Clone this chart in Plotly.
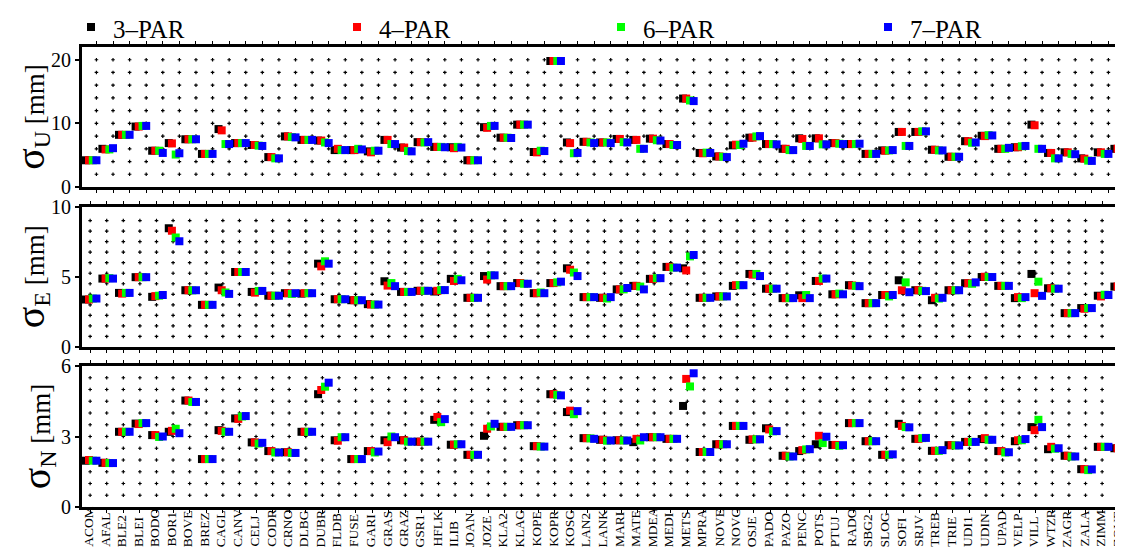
import numpy as np
import plotly.graph_objects as go

stations = ["ACOM","AFAL","BLE2","BLEI","BODO","BOR1","BOVE","BREZ","CAGL","CANV",
            "CELJ","CODR","CRNO","DLBG","DUBR","FLDB","FUSE","GARI","GRAS","GRAZ",
            "GSR1","HFLK","ILIB","JOAN","JOZE","KLA2","KLAG","KOPE","KOPR","KOSG",
            "LAN2","LANK","MARI","MATE","MDEA","MEDI","METS","MPRA","NOVE","NOVG",
            "OSJE","PADO","PAZO","PENC","POTS","PTUJ","RADO","SBG2","SLOG","SOFI",
            "SRJV","TREB","TRIE","UDI1","UDIN","UPAD","VELP","VILL","WTZR","ZAGR",
            "ZALA","ZIMM","ZOUF"]

models = ["3\u2013PAR", "4\u2013PAR", "6\u2013PAR", "7\u2013PAR"]

# sigma_U [mm]
sigU_3par = [4.2,6.0,8.2,9.5,5.7,6.9,7.5,5.2,9.1,6.9,6.6,4.7,7.95,7.4,7.3,5.8,5.8,5.6,7.4,6.2,
             7.05,6.3,6.25,4.2,9.4,7.75,9.8,5.5,19.8,7.0,7.1,7.0,7.55,7.4,7.6,6.75,13.9,5.35,4.8,6.55,
             7.75,6.75,6.0,7.65,7.65,6.9,6.75,5.2,5.75,8.65,8.65,5.85,4.75,7.2,8.05,6.0,6.25,9.8,5.35,5.45,
             4.5,5.45,6.0]
sigU_4par = [4.2,5.9,8.2,9.5,5.7,6.85,7.5,5.2,8.9,6.9,6.6,4.7,7.95,7.4,7.3,6.0,5.8,5.45,7.4,6.2,
             7.05,6.3,6.1,4.2,9.3,7.75,9.8,5.45,19.8,6.9,7.1,7.0,7.55,7.4,7.6,6.75,13.9,5.3,4.8,6.65,
             7.75,6.75,6.0,7.55,7.65,6.9,6.75,5.2,5.7,8.65,8.65,5.85,4.75,7.2,8.0,6.0,6.25,9.7,5.35,5.45,
             4.45,5.45,6.0]
sigU_6par = [4.2,5.9,8.2,9.6,5.7,5.1,7.5,5.2,6.75,6.9,6.5,4.5,7.85,7.4,7.0,5.8,6.0,5.7,6.75,5.65,
             7.0,6.3,6.3,4.2,9.6,7.75,9.8,5.7,19.8,5.3,7.0,7.0,7.05,6.0,7.35,6.6,13.6,5.4,4.75,6.6,
             7.95,6.75,5.8,6.45,6.7,6.8,6.75,5.2,5.75,6.45,8.75,5.75,4.75,6.95,8.15,6.0,6.4,6.0,4.5,5.2,
             4.15,5.2,5.8]
sigU_7par = [4.2,6.1,8.2,9.6,5.35,5.3,7.5,5.2,6.75,6.9,6.45,4.5,7.8,7.4,6.9,5.8,5.9,5.7,6.75,5.6,
             7.05,6.25,6.2,4.2,9.6,7.7,9.8,5.65,19.8,5.35,6.9,6.9,7.0,6.0,7.3,6.6,13.5,5.35,4.7,6.8,
             8.0,6.7,5.8,6.45,6.7,6.75,6.8,5.2,5.8,6.45,8.75,5.75,4.75,7.0,8.1,6.15,6.45,6.0,4.5,5.15,
             4.1,5.2,6.0]

# sigma_E [mm]
sigE_3par = [3.38,4.87,3.85,4.97,3.57,8.45,4.04,3.0,4.23,5.34,3.92,3.65,3.83,3.8,5.93,3.4,3.33,3.05,4.68,3.92,
             4.0,3.95,4.85,3.5,5.05,4.33,4.55,3.83,4.55,5.6,3.55,3.5,4.1,4.35,4.85,5.7,5.6,3.5,3.6,4.35,
             5.2,4.15,3.48,3.68,4.7,3.75,4.4,3.12,3.7,4.75,4.04,3.33,4.04,4.54,4.98,4.35,3.48,5.2,4.18,2.41,
             2.77,3.65,4.3]
sigE_4par = [3.38,4.87,3.8,4.97,3.62,8.27,4.04,3.0,4.04,5.34,3.87,3.65,3.83,3.83,5.74,3.4,3.33,3.02,4.37,3.92,
             4.0,4.0,4.7,3.5,4.8,4.33,4.55,3.83,4.55,5.5,3.55,3.5,4.1,4.35,4.85,5.7,5.45,3.5,3.6,4.4,
             5.15,4.15,3.48,3.48,4.7,3.75,4.38,3.12,3.7,4.04,4.04,3.5,4.04,4.54,5.0,4.35,3.55,3.83,4.18,2.41,
             2.72,3.6,4.3]
sigE_6par = [3.45,4.9,3.85,4.97,3.65,7.8,4.03,3.0,3.88,5.34,3.99,3.65,3.78,3.83,6.1,3.4,3.33,3.02,4.55,3.92,
             4.0,4.05,4.85,3.5,5.1,4.33,4.5,3.88,4.6,5.3,3.55,3.45,4.1,4.3,4.9,5.65,6.45,3.5,3.6,4.4,
             5.2,4.15,3.48,3.7,4.87,3.8,4.35,3.12,3.6,4.6,4.0,3.45,4.04,4.5,4.98,4.35,3.48,4.65,4.15,2.41,
             2.77,3.72,4.33]
sigE_7par = [3.45,4.87,3.85,4.97,3.7,7.52,4.04,3.0,3.78,5.34,3.99,3.65,3.83,3.83,5.93,3.4,3.33,3.02,4.33,3.92,
             4.0,4.05,4.75,3.5,5.1,4.33,4.5,3.83,4.65,5.05,3.55,3.55,4.2,4.1,4.9,5.65,6.55,3.5,3.6,4.4,
             5.05,4.15,3.48,3.48,4.87,3.75,4.33,3.12,3.7,3.9,3.98,3.5,4.04,4.6,4.98,4.35,3.55,3.64,4.15,2.41,
             2.77,3.7,4.35]

# sigma_N [mm]
sigN_3par = [1.97,1.88,3.2,3.55,3.06,3.2,4.53,2.04,3.27,3.77,2.75,2.38,2.33,3.2,4.8,2.84,2.04,2.38,2.84,2.84,
             2.78,3.71,2.65,2.22,3.03,3.41,3.48,2.59,4.8,4.04,2.93,2.86,2.84,2.76,2.97,2.9,4.3,2.34,2.67,3.45,
             2.86,3.35,2.18,2.38,2.67,2.64,3.57,2.8,2.22,3.54,2.9,2.39,2.63,2.77,2.89,2.38,2.8,3.4,2.46,2.18,
             1.61,2.56,2.5]
sigN_4par = [2.0,1.88,3.2,3.53,3.06,3.24,4.53,2.04,3.24,3.75,2.75,2.38,2.33,3.2,4.98,2.82,2.04,2.38,2.76,2.84,
             2.78,3.83,2.65,2.22,3.33,3.41,3.48,2.59,4.8,4.1,2.93,2.86,2.84,2.9,2.97,2.9,5.45,2.34,2.67,3.45,
             2.88,3.3,2.18,2.42,3.03,2.64,3.57,2.8,2.22,3.45,2.9,2.39,2.63,2.77,2.93,2.38,2.84,3.27,2.56,2.18,
             1.61,2.56,2.5]
sigN_6par = [1.97,1.87,3.2,3.57,2.98,3.33,4.47,2.04,3.2,3.85,2.7,2.32,2.3,3.2,5.12,2.97,2.04,2.32,3.0,2.78,
             2.78,3.61,2.67,2.22,3.43,3.41,3.48,2.57,4.77,3.95,2.92,2.82,2.83,2.83,2.97,2.9,5.13,2.34,2.67,3.45,
             2.88,3.22,2.15,2.45,2.72,2.6,3.57,2.8,2.22,3.4,2.93,2.39,2.62,2.77,2.86,2.32,2.84,3.71,2.48,2.15,
             1.57,2.56,2.45]
sigN_7par = [1.97,1.87,3.2,3.57,3.0,3.14,4.47,2.04,3.2,3.87,2.73,2.32,2.3,3.2,5.29,2.97,2.04,2.36,2.97,2.78,
             2.78,3.74,2.67,2.22,3.54,3.41,3.48,2.57,4.75,4.08,2.9,2.83,2.83,2.97,2.97,2.9,5.69,2.34,2.67,3.45,
             2.88,3.23,2.15,2.46,2.99,2.63,3.57,2.8,2.24,3.39,2.94,2.42,2.62,2.77,2.86,2.33,2.89,3.4,2.5,2.15,
             1.6,2.56,2.48]

colors = ["#000000", "#ff0000", "#00ff00", "#0000ff"]
offsets = [-0.64, -0.45, -0.22, 0.0]

panels = [
    ("x", "y", [sigU_3par, sigU_4par, sigU_6par, sigU_7par]),
    ("x2", "y2", [sigE_3par, sigE_4par, sigE_6par, sigE_7par]),
    ("x3", "y3", [sigN_3par, sigN_4par, sigN_6par, sigN_7par]),
]

n = len(stations)
k = np.arange(n)
center_shift = -0.38
label_shift = -0.5

fig = go.Figure()

# dotted grid (dots at grid intersections)
grid_specs = [
    ("x", "y", k.astype(float), np.arange(2, 21, 2)),
    ("x2", "y2", k + center_shift, np.arange(1, 13) * 0.75),
    ("x3", "y3", k + center_shift, np.arange(1, 12) * 0.5),
]
for xa, ya, gx, gy in grid_specs:
    X, Y = np.meshgrid(gx, gy)
    fig.add_trace(go.Scatter(x=X.ravel(), y=Y.ravel(), mode="markers", xaxis=xa, yaxis=ya,
                             marker=dict(symbol="cross", size=3, color="black", line=dict(width=0)),
                             showlegend=False, hoverinfo="skip"))

for pi, (xa, ya, series) in enumerate(panels):
    for mi, vals in enumerate(series):
        fig.add_trace(go.Scatter(
            x=k + offsets[mi], y=vals, mode="markers", xaxis=xa, yaxis=ya,
            name=models[mi], showlegend=False,
            marker=dict(symbol="square", size=8, color=colors[mi], line=dict(width=0)),
        ))

W, H = 1123, 548
ml, mt, mb = 74, 39, 49
ph = H - mt - mb
pw = W - ml
xr = [-0.87, -0.87 + pw / 16.59]

def dom(top_px, bot_px):
    return [(499 - bot_px) / ph, (499 - top_px) / ph]

def px2paper_x(px):
    return (px - ml) / pw

def px2paper_y(py):
    return (H - mb - py) / ph

serif = "Liberation Serif"
xcommon = dict(range=xr, showline=True, linewidth=3, linecolor="black", mirror="allticks",
               ticks="outside", ticklen=3, tickwidth=1, tickcolor="black",
               showgrid=False, zeroline=False, showticklabels=False)
ycommon = dict(showline=True, linewidth=3, linecolor="black", mirror=False,
               ticks="outside", ticklen=4, tickwidth=2, tickcolor="black",
               showgrid=False, zeroline=False, tickfont=dict(family=serif, size=20, color="black"))

title_font = dict(family=serif, size=27, color="black")

def ytitle(sub):
    return ("<span style='font-size:40px'>\u03c3</span><sub><span style='font-size:24px'>"
            + sub + "</span></sub> [mm]")

# legend drawn as marker squares + text labels across the top
legend_marker_px = [83, 349, 613, 880]
shapes, annotations = [], []
for mi, name in enumerate(models):
    cx = px2paper_x(legend_marker_px[mi])
    cy = px2paper_y(19)
    shapes.append(dict(type="rect", xref="paper", yref="paper", xsizemode="pixel", ysizemode="pixel",
                       xanchor=cx, yanchor=cy, x0=-4, x1=4, y0=-4, y1=4,
                       fillcolor=colors[mi], line=dict(width=0)))
    annotations.append(dict(text=name, xref="paper", yref="paper",
                            x=px2paper_x(legend_marker_px[mi] + 20), y=px2paper_y(21),
                            xanchor="left", yanchor="middle", showarrow=False,
                            font=dict(family=serif, size=25, color="black")))

# station names under the bottom panel (vertical, aligned at their start like the original)
for i, name in enumerate(stations):
    annotations.append(dict(text=name, xref="x3", yref="paper", x=i + label_shift,
                            y=px2paper_y(540), xanchor="center", yanchor="bottom",
                            textangle=-90, showarrow=False, borderpad=0,
                            font=dict(family=serif, size=13.5, color="black")))

fig.update_layout(
    width=W, height=H,
    margin=dict(l=ml, r=0, t=mt, b=mb),
    paper_bgcolor="white", plot_bgcolor="white",
    font=dict(family=serif, color="black"),
    showlegend=False,
    shapes=shapes, annotations=annotations,
    xaxis=dict(xcommon, domain=[0, 1], anchor="y", tickvals=k.tolist()),
    xaxis2=dict(xcommon, domain=[0, 1], anchor="y2", tickvals=(k + center_shift).tolist(), matches="x"),
    xaxis3=dict(xcommon, domain=[0, 1], anchor="y3", tickvals=(k + center_shift).tolist(), matches="x"),
    yaxis=dict(ycommon, domain=dom(39, 179), anchor="x", range=[0, 22], tickvals=[0, 10, 20],
               title=dict(text=ytitle("U"), font=title_font, standoff=2)),
    yaxis2=dict(ycommon, domain=dom(198.5, 339), anchor="x2", range=[0, 10], tickvals=[0, 5, 10],
                title=dict(text=ytitle("E"), font=title_font, standoff=2)),
    yaxis3=dict(ycommon, domain=dom(358, 499), anchor="x3", range=[0, 6], tickvals=[0, 3, 6],
                title=dict(text=ytitle("N"), font=title_font, standoff=2)),
)

fig.write_html("out.html")
